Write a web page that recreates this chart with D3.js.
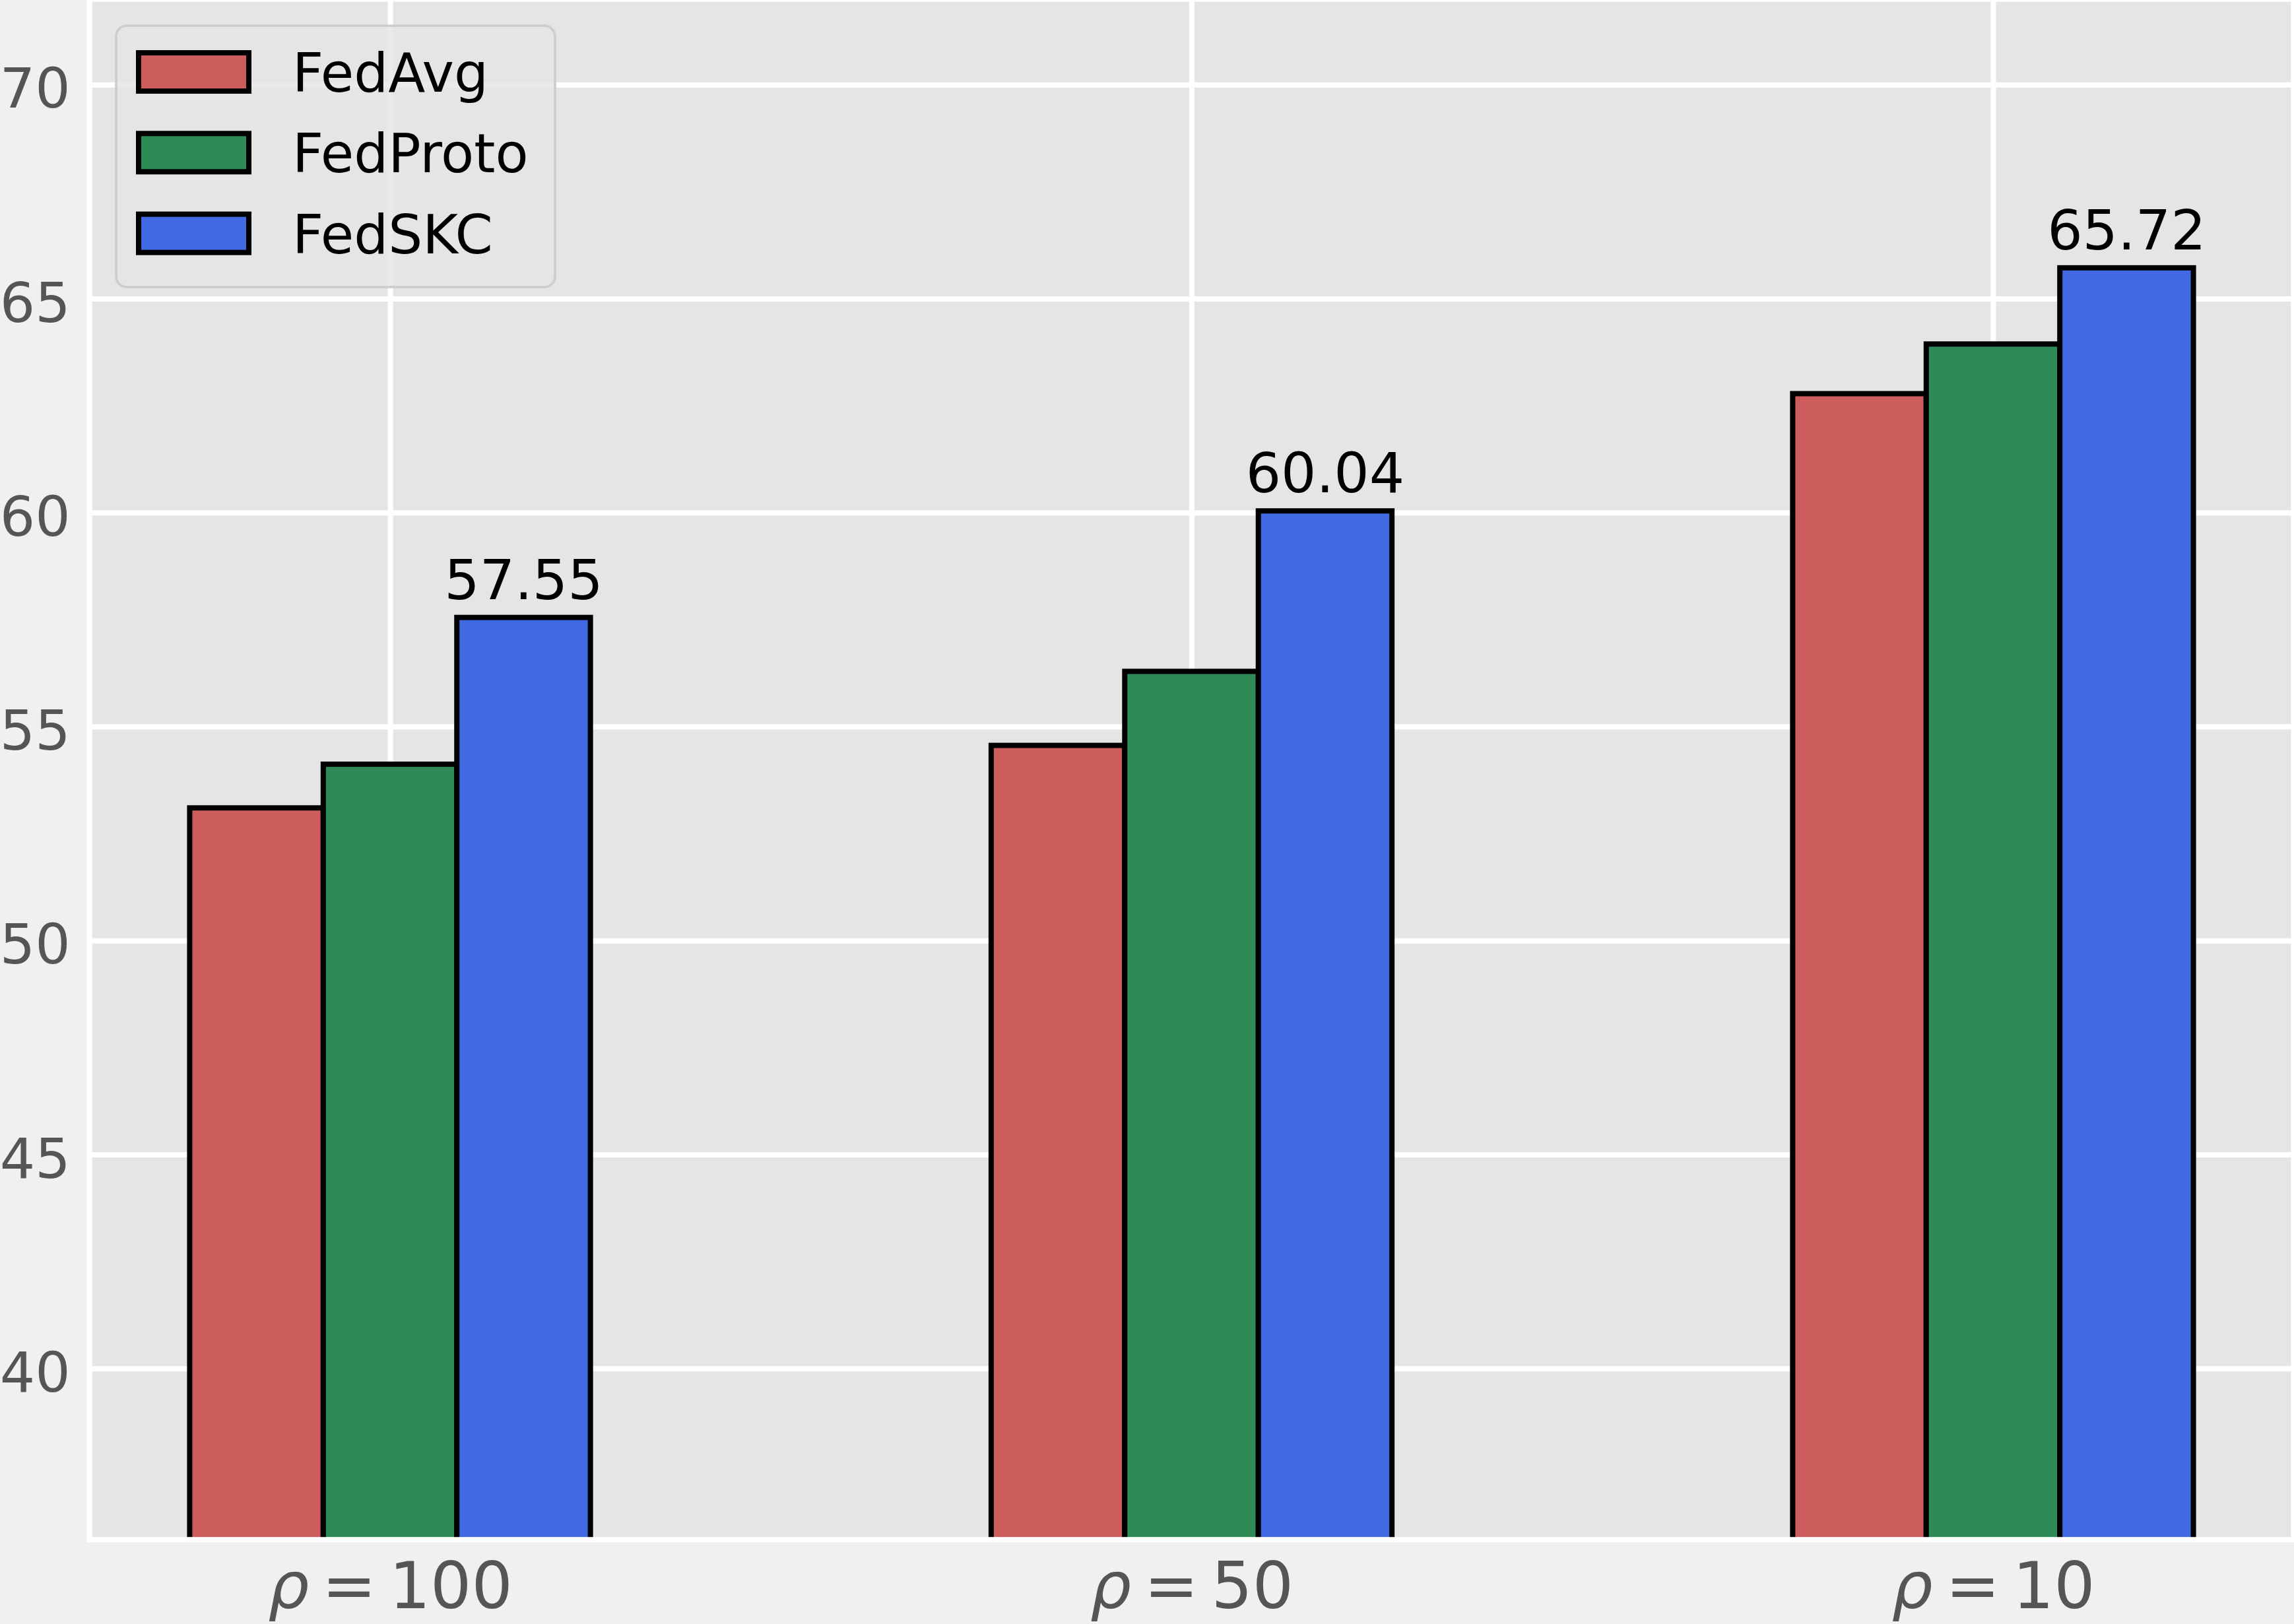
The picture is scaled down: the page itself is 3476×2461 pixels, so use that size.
<!DOCTYPE html>
<html>
<head>
<meta charset="utf-8">
<script src="https://cdn.jsdelivr.net/npm/d3@7"></script>
<style>
  html, body { margin: 0; padding: 0; background: #f0f0f0; }
  svg { display: block; }
  text { font-family: "DejaVu Sans", sans-serif; }
</style>
</head>
<body>
<svg id="chart"></svg>
<script>
// ---- data ----
const categories = [100, 50, 10];              // rho values
const seriesNames = ["FedAvg", "FedProto", "FedSKC"];
const fedAvg   = [53.10, 54.56, 62.78];
const fedProto = [54.12, 56.29, 63.94];
const fedSKC   = [57.55, 60.04, 65.72];
const seriesColors = ["#CD5C5C", "#2E8B57", "#4169E1"];
const yTicks = [40, 45, 50, 55, 60, 65, 70];
const yDomain = [36, 72];
const labeledSeries = 2; // only FedSKC bars carry value labels

const seriesValues = [fedAvg, fedProto, fedSKC];

// ---- layout ----
const W = 3476, H = 2461;
const plot = { left: 135.6, right: 3475.4, top: -1.4, bottom: 2333.2 };
const barW = 1 / 6;

const svg = d3.select("#chart").attr("width", W).attr("height", H);
svg.append("rect").attr("width", W).attr("height", H).attr("fill", "#f0f0f0");

const x = d3.scaleLinear()
  .domain([-0.375, categories.length - 1 + 0.375])
  .range([plot.left, plot.right]);
const y = d3.scaleLinear().domain(yDomain).range([plot.bottom, plot.top]);

const pw = plot.right - plot.left, ph = plot.bottom - plot.top;

// axes background
svg.append("rect")
  .attr("x", plot.left).attr("y", plot.top)
  .attr("width", pw).attr("height", ph)
  .attr("fill", "#e5e5e5");

svg.append("clipPath").attr("id", "plotclip")
  .append("rect").attr("x", plot.left).attr("y", plot.top)
  .attr("width", pw).attr("height", ph);

// y axis with grid
const yAxis = d3.axisLeft(y).tickValues(yTicks).tickSize(-pw).tickPadding(29)
  .tickFormat(d3.format("d"));
const gy = svg.append("g").attr("transform", `translate(${plot.left},0)`).call(yAxis);
gy.select(".domain").remove();
gy.selectAll(".tick line").attr("stroke", "#ffffff").attr("stroke-width", 8);
gy.selectAll(".tick text")
  .attr("fill", "#555555").attr("font-size", 84)
  .attr("font-family", "DejaVu Sans").attr("dy", "0.41em");

// x axis with grid
const xAxis = d3.axisBottom(x).tickValues(d3.range(categories.length))
  .tickSize(-ph).tickPadding(104).tickFormat(() => "");
const gx = svg.append("g").attr("transform", `translate(0,${plot.bottom})`).call(xAxis);
gx.select(".domain").remove();
gx.selectAll(".tick line").attr("stroke", "#ffffff").attr("stroke-width", 8);
gx.selectAll(".tick text")
  .attr("fill", "#555555").attr("font-size", 98)
  .attr("font-family", "DejaVu Sans").attr("dy", 0)
  .each(function(d) {
    const t = d3.select(this);
    t.text(null);
    t.append("tspan").attr("font-style", "italic").text("ρ");
    t.append("tspan").text("\u2009=\u2009");
    t.append("tspan").text(categories[d]);
  });

// bars
const barsG = svg.append("g").attr("clip-path", "url(#plotclip)");
seriesValues.forEach((vals, s) => {
  barsG.selectAll(null)
    .data(vals)
    .enter().append("rect")
    .attr("x", (v, i) => x(i + (s - 1.5) * barW))
    .attr("width", (v, i) => x(i + (s - 0.5) * barW) - x(i + (s - 1.5) * barW))
    .attr("y", v => y(v))
    .attr("height", v => y(0) - y(v))
    .attr("fill", seriesColors[s])
    .attr("stroke", "#000000")
    .attr("stroke-width", 8);
});

// spines (white)
svg.append("rect")
  .attr("x", plot.left).attr("y", plot.top)
  .attr("width", pw).attr("height", ph)
  .attr("fill", "none").attr("stroke", "#ffffff").attr("stroke-width", 8);

// value labels
svg.append("g").selectAll("text")
  .data(seriesValues[labeledSeries])
  .enter().append("text")
  .attr("x", (v, i) => x(i + (labeledSeries - 1) * barW))
  .attr("y", v => y(v) - 28)
  .attr("text-anchor", "middle")
  .attr("font-size", 84)
  .attr("fill", "#000000")
  .text(v => v.toFixed(2));

// legend
const lg = svg.append("g");
lg.append("rect")
  .attr("x", 176).attr("y", 39).attr("width", 665).attr("height", 396)
  .attr("rx", 16).attr("ry", 16)
  .attr("fill", "#e5e5e5").attr("fill-opacity", 0.8)
  .attr("stroke", "#cccccc").attr("stroke-width", 3.5);
const rowY = d3.scaleLinear().domain([0, 1]).range([109, 231.3]);
seriesNames.forEach((name, s) => {
  const cy = rowY(s);
  lg.append("rect")
    .attr("x", 210).attr("y", cy - 29).attr("width", 167).attr("height", 58)
    .attr("fill", seriesColors[s]).attr("stroke", "#000000").attr("stroke-width", 8);
  lg.append("text")
    .attr("x", 443).attr("y", cy + 30)
    .attr("font-size", 82).attr("fill", "#000000")
    .text(name);
});
</script>
</body>
</html>
